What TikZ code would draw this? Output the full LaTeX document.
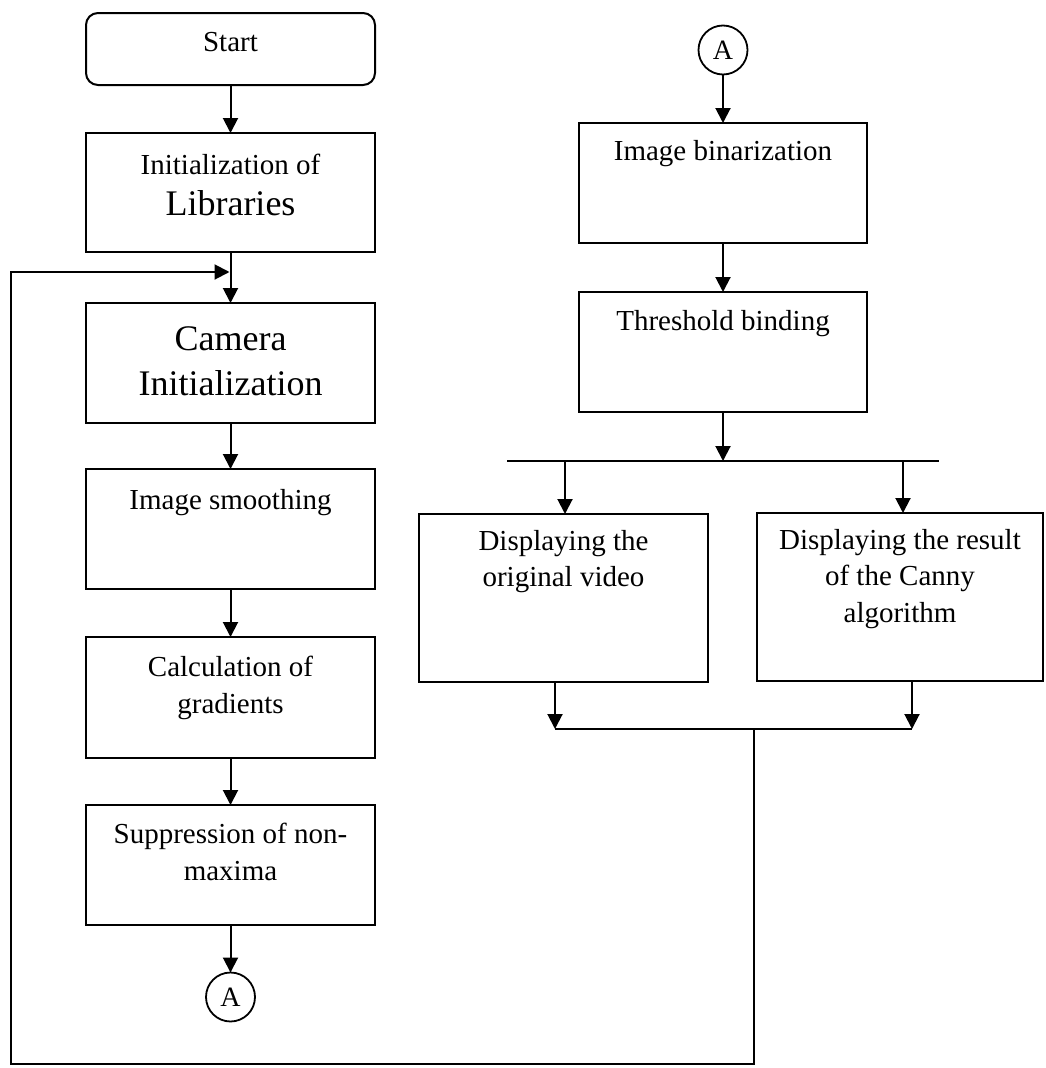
\documentclass[tikz,border=0pt]{standalone}
\usepackage{fontspec}
\setmainfont{Liberation Serif}
\usetikzlibrary{arrows.meta}
\begin{document}
\begin{tikzpicture}[x=1pt,y=-1pt,
  box/.style={draw, line width=2pt, anchor=north west, inner sep=0pt, outer sep=0pt},
  rbox/.style={box, rounded corners=12pt},
  txt/.style={anchor=north, align=center, inner sep=0pt, font=\fontsize{29}{36.5}\selectfont},
  bigtxt/.style={txt, font=\fontsize{36}{45}\selectfont},
  conn/.style={line width=2pt, -{Triangle[length=15pt,width=15pt]}},
  wire/.style={line width=2pt},
  conncirc/.style={draw, circle, line width=1.8pt, minimum size=49pt, inner sep=0pt, outer sep=0pt, font=\fontsize{28}{30}\selectfont}
]
\useasboundingbox (0,0) rectangle (1045,1068);

% left column
\node[rbox, minimum width=289pt, minimum height=72pt] (start) at (86,13) {};
\node[txt] (tstart) at (230.5,32) {Start};
\node[box, minimum width=289pt, minimum height=119pt] (init) at (86,133) {};
\node[txt] (tinit) at (230.5,154) {Initialization of\\[4.5pt]{\fontsize{36}{45}\selectfont Libraries}};
\node[box, minimum width=289pt, minimum height=120pt] (cam) at (86,303) {};
\node[bigtxt] (tcam) at (230.5,326) {Camera\\Initialization};
\node[box, minimum width=289pt, minimum height=120pt] (smooth) at (86,469) {};
\node[txt] (tsmooth) at (230.5,489) {Image smoothing};
\node[box, minimum width=289pt, minimum height=121pt] (calc) at (86,637) {};
\node[txt] (tcalc) at (230.5,656) {Calculation of\\gradients};
\node[box, minimum width=289pt, minimum height=120pt] (supp) at (86,805) {};
\node[txt] (tsupp) at (230.5,823) {Suppression of non-\\maxima};
\node[conncirc] (a2) at (230.5,997) {A};

% right column
\node[conncirc] (a1) at (723,50) {A};
\node[box, minimum width=288pt, minimum height=120pt] (bin) at (579,123) {};
\node[txt] (tbin) at (723,140) {Image binarization};
\node[box, minimum width=288pt, minimum height=120pt] (thr) at (579,292) {};
\node[txt] (tthr) at (723,310) {Threshold binding};
\node[box, minimum width=289pt, minimum height=168pt] (orig) at (419,514) {};
\node[txt] (torig) at (563.5,530) {Displaying the\\original video};
\node[box, minimum width=286pt, minimum height=168pt] (canny) at (757,513) {};
\node[txt] (tcanny) at (900,529) {Displaying the result\\of the Canny\\algorithm};

\coordinate (sL) at (507,461);
\coordinate (sR) at (939,461);
\coordinate (sM) at (723,461);
\coordinate (sA) at (565,461);
\coordinate (sB) at (903,461);
\coordinate (mL) at (555,729);
\coordinate (mR) at (912,729);
\coordinate (mM) at (754,729);
\coordinate (lb1) at (754,1064);
\coordinate (lb2) at (11,1064);
\coordinate (lt) at (11,272);
\coordinate (le) at (229.5,272);

\draw[conn] (start) -- (init);
\draw[conn] (init) -- (cam);
\draw[conn] (cam) -- (smooth);
\draw[conn] (smooth) -- (calc);
\draw[conn] (calc) -- (supp);
\draw[conn] (supp) -- (a2);

\draw[conn] (a1) -- (bin);
\draw[conn] (bin) -- (thr);
\draw[conn] (thr.south) -- (sM);
\draw[wire] (sL) -- (sR);
\draw[conn] (sA) -- (sA |- orig.north);
\draw[conn] (sB) -- (sB |- canny.north);
\draw[conn] (mL |- orig.south) -- (mL);
\draw[conn] (mR |- canny.south) -- (mR);
\draw[wire] (mL) -- (mR);
\draw[conn] (mM) -- (lb1) -- (lb2) -- (lt) -- (le);
\end{tikzpicture}
\end{document}
